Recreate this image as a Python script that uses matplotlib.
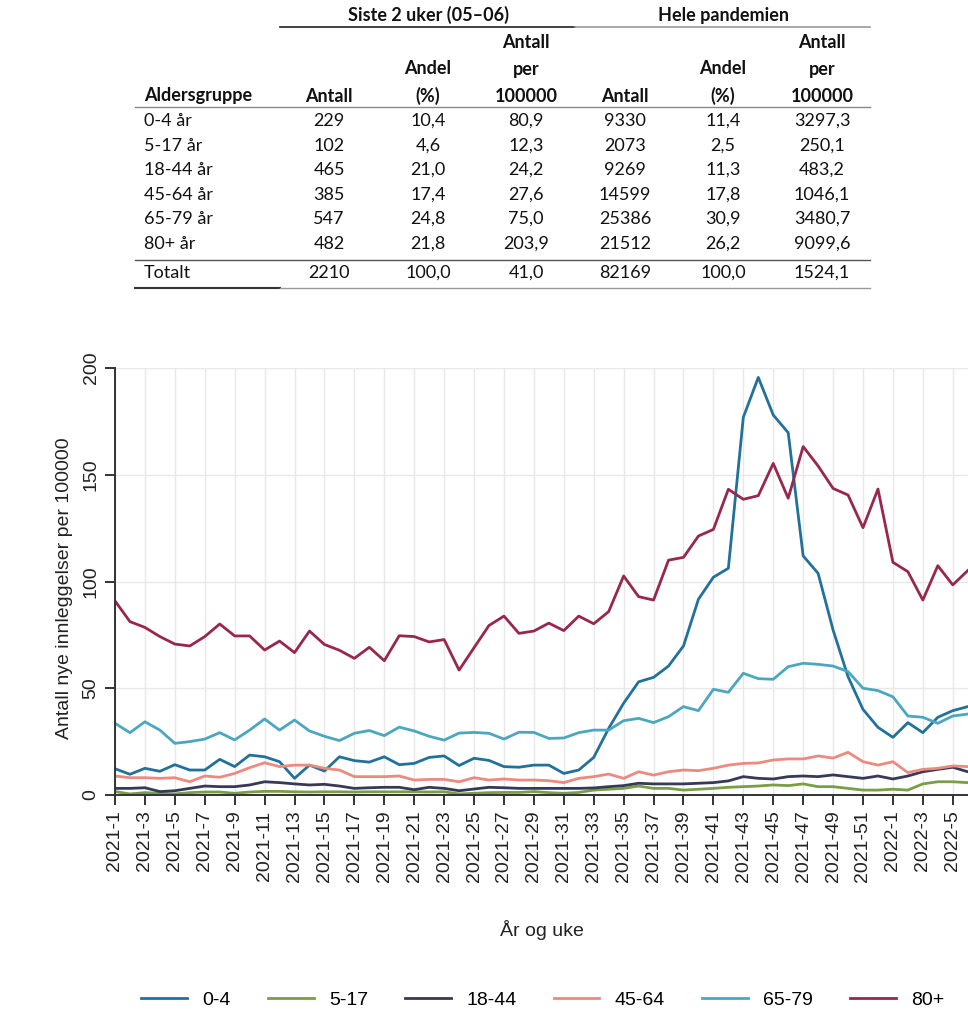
import numpy as np
import matplotlib.pyplot as plt

# weekly admissions per 100000, 2021-1 .. 2022-6
years = [2021] * 52 + [2022] * 6
week_no = list(range(1, 53)) + list(range(1, 7))
weeks = [f"{y}-{w}" for y, w in zip(years, week_no)]

age_0_4 = [12.3, 9.7, 12.5, 11.1, 14.2, 11.7, 11.7, 16.7, 13.3, 18.7,
           17.9, 15.6, 7.8, 14.0, 11.2, 17.9, 16.1, 15.4, 17.9, 14.2,
           14.8, 17.6, 18.3, 13.8, 17.2, 16.2, 13.3, 13.0, 14.0, 14.0,
           10.1, 11.7, 17.6, 31.2, 43.0, 53.0, 55.1, 60.4, 69.8, 91.7,
           102.0, 106.2, 176.9, 195.6, 178.0, 169.7, 112.0, 103.8, 77.3, 55.4,
           40.1, 31.7, 27.0, 33.9, 29.2, 36.4, 39.5, 41.4]
age_5_17 = [1.6, 0.5, 1.1, 0.8, 0.5, 1.1, 1.4, 1.4, 0.8, 1.4,
            1.7, 1.7, 1.5, 1.4, 1.5, 1.5, 1.4, 1.5, 1.5, 1.5,
            1.5, 1.4, 1.5, 0.5, 0.8, 1.1, 1.2, 1.2, 1.6, 1.1,
            0.8, 1.2, 2.3, 2.7, 3.1, 4.2, 3.1, 3.1, 2.3, 2.7,
            3.1, 3.6, 3.9, 4.2, 4.7, 4.4, 5.2, 3.9, 3.9, 3.1,
            2.3, 2.3, 2.7, 2.3, 5.2, 6.2, 6.2, 5.8]
age_18_44 = [3.1, 3.1, 3.4, 1.6, 2.0, 3.1, 4.2, 3.9, 3.9, 4.7,
             6.2, 5.8, 5.2, 4.7, 5.0, 4.2, 3.1, 3.4, 3.6, 3.6,
             2.5, 3.6, 3.1, 2.0, 2.8, 3.6, 3.4, 3.1, 3.1, 3.1,
             3.1, 3.1, 3.3, 3.9, 4.4, 5.5, 5.2, 5.2, 5.2, 5.5,
             5.8, 6.6, 8.6, 7.8, 7.5, 8.6, 8.9, 8.6, 9.4, 8.6,
             7.8, 8.9, 7.5, 8.9, 10.9, 12.0, 13.0, 10.9]
age_45_64 = [8.9, 8.1, 8.1, 7.8, 8.1, 6.2, 8.9, 8.3, 10.1, 12.8,
             15.1, 13.3, 14.0, 14.0, 12.5, 11.7, 8.6, 8.6, 8.6, 8.9,
             7.0, 7.3, 7.3, 6.2, 8.1, 7.0, 7.5, 7.0, 7.0, 6.7,
             5.8, 7.8, 8.6, 9.8, 7.8, 10.9, 9.3, 10.9, 11.7, 11.4,
             12.5, 14.0, 14.8, 15.0, 16.4, 16.9, 16.9, 18.3, 17.3, 20.0,
             15.6, 14.0, 15.6, 10.5, 12.0, 12.5, 13.6, 13.3]
age_65_79 = [33.6, 29.2, 34.3, 30.4, 24.2, 25.0, 26.2, 29.2, 25.8, 30.4,
             35.6, 30.4, 35.1, 30.0, 27.5, 25.5, 28.9, 30.2, 27.8, 31.8,
             30.0, 27.5, 25.7, 29.0, 29.3, 28.9, 26.2, 29.4, 29.3, 26.5,
             26.7, 29.2, 30.4, 30.4, 34.8, 35.9, 33.9, 36.7, 41.4, 39.5,
             49.5, 48.1, 57.0, 54.5, 54.2, 60.1, 61.7, 61.2, 60.4, 57.8,
             50.0, 48.9, 46.0, 37.0, 36.4, 33.6, 37.0, 37.9]
age_80 = [90.9, 81.2, 78.5, 74.2, 70.7, 69.8, 74.2, 80.1, 74.5, 74.5,
          67.9, 72.1, 66.7, 76.8, 70.5, 67.8, 64.0, 69.2, 62.9, 74.6,
          74.2, 71.7, 72.8, 58.5, 69.0, 79.4, 83.8, 75.7, 76.8, 80.5,
          77.0, 83.8, 80.2, 85.9, 102.6, 92.9, 91.3, 110.0, 111.3, 121.3,
          124.4, 143.2, 138.5, 140.2, 155.3, 139.0, 163.2, 154.1, 143.6, 140.5,
          125.2, 143.3, 109.0, 104.6, 91.3, 107.4, 98.4, 105.1]

series_labels = ["0-4", "5-17", "18-44", "45-64", "65-79", "80+"]
series_colors = ["#22719a", "#7a9e45", "#363a57", "#ec8a80", "#4ba7c0", "#99264f"]

# table
groups = ["0-4 år", "5-17 år", "18-44 år", "45-64 år", "65-79 år", "80+ år", "Totalt"]
siste_antall = [229, 102, 465, 385, 547, 482, 2210]
siste_andel = [10.4, 4.6, 21.0, 17.4, 24.8, 21.8, 100.0]
siste_per = [80.9, 12.3, 24.2, 27.6, 75.0, 203.9, 41.0]
hele_antall = [9330, 2073, 9269, 14599, 25386, 21512, 82169]
hele_andel = [11.4, 2.5, 11.3, 17.8, 30.9, 26.2, 100.0]
hele_per = [3297.3, 250.1, 483.2, 1046.1, 3480.7, 9099.6, 1524.1]


def fmt(v):
    return f"{v:.1f}".replace(".", ",")


W, H = 968, 1024
fig = plt.figure(figsize=(W / 100, H / 100), dpi=100)

# ---- table, drawn in pixel coordinates
tab = fig.add_axes([0, 0, 1, 1])
tab.set_xlim(0, W)
tab.set_ylim(H, 0)
tab.axis("off")

tfont = dict(family=["Lato", "DejaVu Sans"], fontsize=13, color="#111111")
col_x = [329, 428, 526, 625, 723, 822]
row_y = [121, 146, 170, 195, 219, 244, 273]

tab.text(428, 15, "Siste 2 uker (05–06)", ha="center", va="center", fontweight="bold", **tfont)
tab.text(723, 15, "Hele pandemien", ha="center", va="center", fontweight="bold", **tfont)
tab.plot([280, 575], [27, 27], color="#222222", lw=1.2)
tab.plot([575, 870], [27, 27], color="#999999", lw=1.2)

head_rows = [(42, ["", "", "Antall", "", "", "Antall"]),
             (69, ["", "Andel", "per", "", "Andel", "per"]),
             (96, ["Antall", "(%)", "100000", "Antall", "(%)", "100000"])]
for y, cells in head_rows:
    for x, s in zip(col_x, cells):
        tab.text(x, y, s, ha="center", va="center", fontweight="bold", **tfont)
tab.text(144, 96, "Aldersgruppe", ha="left", va="center", fontweight="bold", **tfont)
tab.plot([135, 870], [107, 107], color="#888888", lw=1.0)

cols = [[str(v) for v in siste_antall], [fmt(v) for v in siste_andel],
        [fmt(v) for v in siste_per], [str(v) for v in hele_antall],
        [fmt(v) for v in hele_andel], [fmt(v) for v in hele_per]]
for i, g in enumerate(groups):
    tab.text(144, row_y[i], g, ha="left", va="center", **tfont)
    for x, c in zip(col_x, cols):
        tab.text(x, row_y[i], c[i], ha="center", va="center", **tfont)
tab.plot([135, 870], [260, 260], color="#555555", lw=1.0)
tab.plot([135, 280], [288, 288], color="#333333", lw=1.5)
tab.plot([280, 870], [288, 288], color="#999999", lw=1.0)

# ---- line chart
afont = ["Liberation Sans", "DejaVu Sans"]
x = np.arange(len(weeks))
px_week = 14.96
left, bottom, top = 115, 795, 368
xmax = 57.2
ax = fig.add_axes([left / W, 1 - bottom / H, xmax * px_week / W, (bottom - top) / H])

series = [age_0_4, age_5_17, age_18_44, age_45_64, age_65_79, age_80]
for vals, lab, col in zip(series, series_labels, series_colors):
    ax.plot(x, vals, color=col, lw=2.0, label=lab)

ax.set_xlim(0, xmax)
ax.set_ylim(0, 200)
ax.set_xticks(x[::2])
ax.set_xticklabels(weeks[::2], rotation=90, family=afont, fontsize=14, color="#222222")
ax.set_yticks([0, 50, 100, 150, 200])
ax.set_yticklabels(["0", "50", "100", "150", "200"], rotation=90, va="center",
                   family=afont, fontsize=14, color="#222222")
ax.grid(True, color="#e8e8e8", lw=1.0)
ax.set_axisbelow(True)
for s in ["top", "right"]:
    ax.spines[s].set_visible(False)
for s in ["left", "bottom"]:
    ax.spines[s].set_color("#333333")
    ax.spines[s].set_linewidth(1.4)
ax.tick_params(axis="both", length=7, width=1.4, color="#333333", pad=4)

fig.text(65 / W, 1 - 588 / H, "Antall nye innleggelser per 100000", rotation=90,
         ha="center", va="center", family=afont, fontsize=14, color="#222222")
fig.text(542 / W, 1 - 930 / H, "År og uke", ha="center", va="center",
         family=afont, fontsize=14, color="#222222")

fig.legend(loc="center", bbox_to_anchor=(543 / W, 1 - 1000 / H), ncol=6, frameon=False,
           handlelength=2.35, handletextpad=0.8, columnspacing=1.9,
           prop=dict(family=afont, size=14))

fig.savefig("out.png", dpi=100)
